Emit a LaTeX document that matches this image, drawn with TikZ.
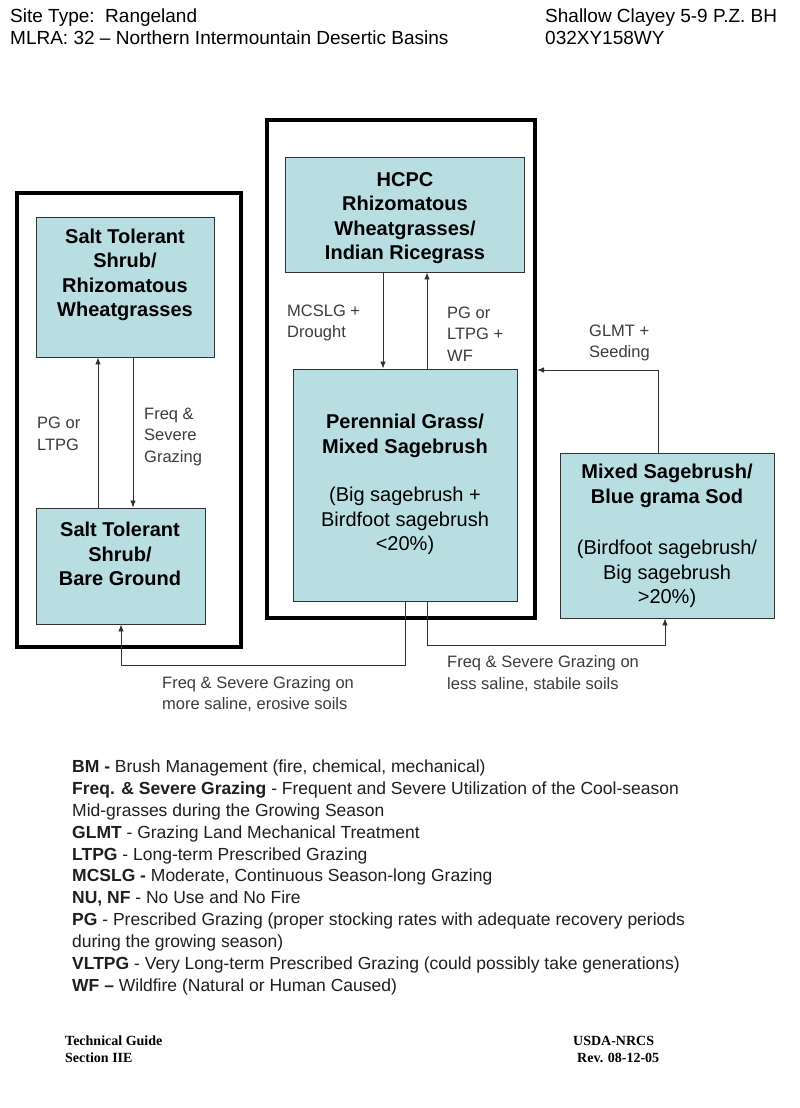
\documentclass[tikz,border=0pt]{standalone}
\usepackage{fontspec}
\setmainfont{Liberation Sans}
\newfontfamily\footserif{Liberation Serif}
\usetikzlibrary{arrows.meta}
\definecolor{boxfill}{RGB}{184,222,226}
\definecolor{lblgray}{RGB}{60,60,60}
\definecolor{linegray}{RGB}{50,50,50}
\newcommand\myfs[2]{\fontsize{#1}{#2}\selectfont}
\begin{document}
\begin{tikzpicture}[x=1pt,y=-1pt,
  outerbox/.style={draw=black,line width=4pt,inner sep=0pt},
  statebox/.style={draw=linegray,line width=0.9pt,fill=boxfill,inner sep=0pt},
  btxt/.style={font=\bfseries\myfs{20}{24.5},align=center,inner sep=0pt},
  rtxt/.style={font=\myfs{20}{24.5},align=center,inner sep=0pt},
  lbl/.style={font=\myfs{16.5}{21.5},text=lblgray,align=left,inner sep=0pt,anchor=west},
  hdr/.style={font=\myfs{19}{22},inner sep=0pt,anchor=base west},
  leg/.style={font=\myfs{17.5}{22},text=black!88,inner sep=0pt,anchor=base west},
  foot/.style={font=\footserif\bfseries\myfs{14}{17},inner sep=0pt,anchor=base west},
  conn/.style={draw=linegray,line width=0.8pt},
  arr/.style={conn,-{Latex[length=7pt,width=5.5pt]}}]
\useasboundingbox[fill=white] (0,0) rectangle (800,1108);

% headers
\node[hdr] (h1) at (10,23) {Site Type:\ \ Rangeland};
\node[hdr] (h2) at (10,45) {MLRA: 32 -- Northern Intermountain Desertic Basins};
\node[hdr] (h3) at (545,23) {Shallow Clayey 5-9 P.Z. BH};
\node[hdr] (h4) at (545,45) {032XY158WY};

% outer boxes
\node[outerbox,minimum width=224pt,minimum height=454pt] (OL) at (129,420) {};
\node[outerbox,minimum width=268pt,minimum height=498pt] (OC) at (401,369) {};

% state boxes
\node[statebox,minimum width=178pt,minimum height=140pt] (A) at (125,287) {};
\node[statebox,minimum width=169pt,minimum height=116pt] (B) at (120.5,566) {};
\node[statebox,minimum width=239pt,minimum height=115pt] (HC) at (404.5,214.5) {};
\node[statebox,minimum width=224pt,minimum height=232pt] (PG) at (405,485) {};
\node[statebox,minimum width=214pt,minimum height=165pt] (MX) at (667,535.5) {};

% box texts
\node[btxt] (tA) at (125,275) {Salt Tolerant\\Shrub/\\Rhizomatous\\Wheatgrasses};
\node[btxt] (tB) at (120,554) {Salt Tolerant\\Shrub/\\Bare Ground};
\node[btxt] (tHC) at (405,218) {HCPC\\Rhizomatous\\Wheatgrasses/\\Indian Ricegrass};
\node[btxt] (tPG1) at (405,436) {Perennial Grass/\\Mixed Sagebrush};
\node[rtxt] (tPG2) at (405,521) {(Big sagebrush +\\Birdfoot sagebrush\\<20\%)};
\node[btxt] (tMX1) at (667,486) {Mixed Sagebrush/\\Blue grama Sod};
\node[rtxt] (tMX2) at (667,574) {(Birdfoot sagebrush/\\Big sagebrush\\>20\%)};

% helper coordinates
\coordinate (x98) at (98,0);
\coordinate (x133) at (133,0);
\coordinate (x383) at (383,0);
\coordinate (x427) at (427,0);
\coordinate (x405) at (405,0);
\coordinate (x121) at (121,0);
\coordinate (x658) at (658,0);
\coordinate (x665) at (665,0);
\coordinate (y370) at (0,370);
\coordinate (y665) at (0,665);
\coordinate (y645) at (0,645);

% connectors
\draw[arr] (B.north -| x98) -- (A.south -| x98);
\draw[arr] (A.south -| x133) -- (B.north -| x133);
\draw[arr] (HC.south -| x383) -- (PG.north -| x383);
\draw[arr] (PG.north -| x427) -- (HC.south -| x427);
\draw[arr] (MX.north -| x658) |- (OC.east |- y370);
\draw[arr] (PG.south -| x405) -- (x405 |- y665) -| (B.south -| x121);
\draw[arr] (PG.south -| x427) -- (x427 |- y645) -| (MX.south -| x665);

% connector labels
\node[lbl] (l1) at (37,434) {PG or\\LTPG};
\node[lbl] (l2) at (144,436.5) {Freq \&\\Severe\\Grazing};
\node[lbl] (l3) at (287,323) {MCSLG +\\Drought};
\node[lbl] (l4) at (447,334) {PG or\\LTPG +\\WF};
\node[lbl] (l5) at (589,343) {GLMT +\\Seeding};
\node[lbl] (l6) at (162,694) {Freq \& Severe Grazing on\\more saline, erosive soils};
\node[lbl] (l7) at (447,673.5) {Freq \& Severe Grazing on\\less saline, stabile soils};

% legend
\node[leg] (g1) at (72,772) {\textbf{BM -} Brush Management (fire, chemical, mechanical)};
\node[leg] (g2) at (72,794) {\textbf{Freq. \& Severe Grazing} - Frequent and Severe Utilization of the Cool-season};
\node[leg] (g3) at (72,816) {Mid-grasses during the Growing Season};
\node[leg] (g4) at (72,838) {\textbf{GLMT} - Grazing Land Mechanical Treatment};
\node[leg] (g5) at (72,860) {\textbf{LTPG} - Long-term Prescribed Grazing};
\node[leg] (g6) at (72,881.5) {\textbf{MCSLG -} Moderate, Continuous Season-long Grazing};
\node[leg] (g7) at (72,903.5) {\textbf{NU, NF} - No Use and No Fire};
\node[leg] (g8) at (72,925) {\textbf{PG} - Prescribed Grazing (proper stocking rates with adequate recovery periods};
\node[leg] (g9) at (72,947) {during the growing season)};
\node[leg] (g10) at (72,969) {\textbf{VLTPG} - Very Long-term Prescribed Grazing (could possibly take generations)};
\node[leg] (g11) at (72,991) {\textbf{WF --} Wildfire (Natural or Human Caused)};

% footer
\node[foot] (f1) at (65,1045) {Technical Guide};
\node[foot] (f2) at (65,1062) {Section IIE};
\node[foot] (f3) at (573,1045) {USDA-NRCS};
\node[foot] (f4) at (577,1062) {Rev. 08-12-05};
\end{tikzpicture}
\end{document}
